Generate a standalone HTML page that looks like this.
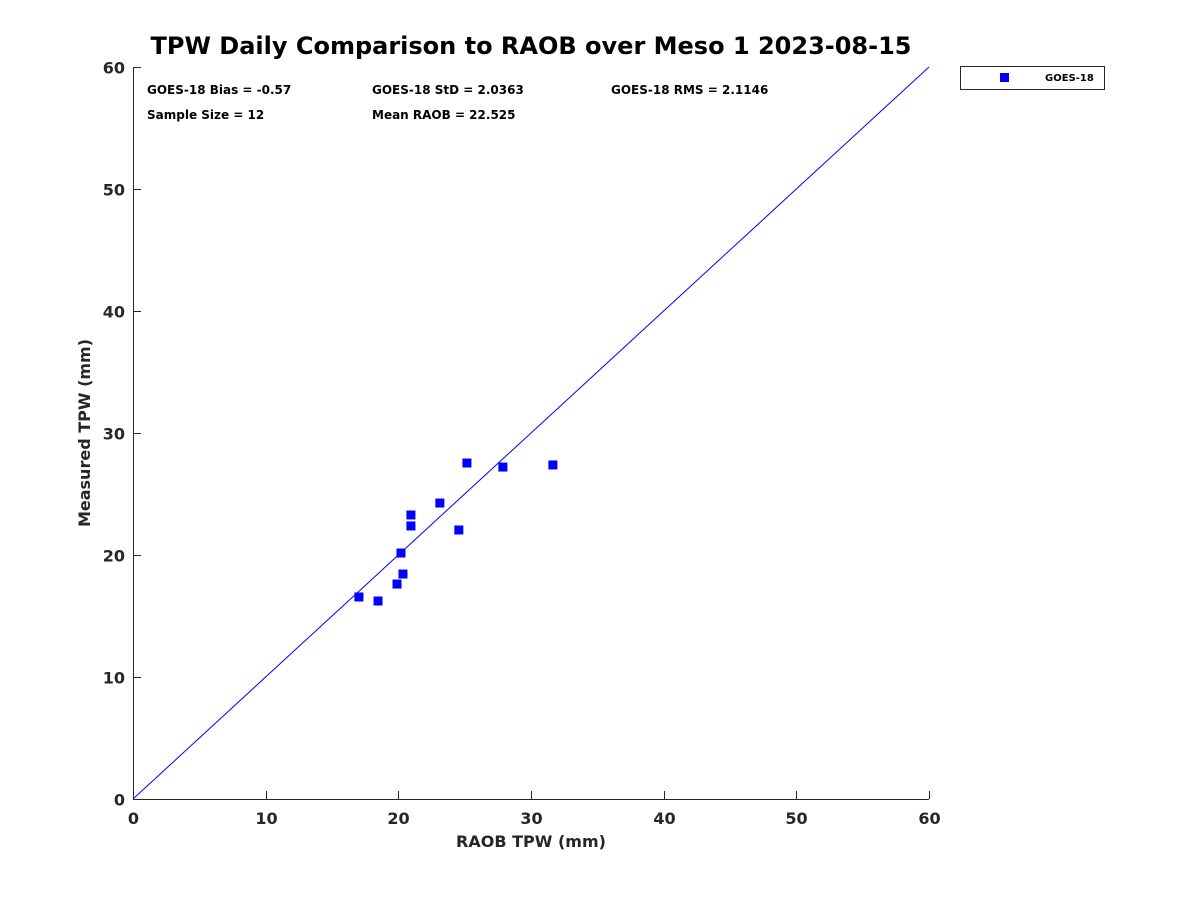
<!DOCTYPE html>
<html><head><meta charset="utf-8"><style>
body{margin:0;background:#fff;}
svg text{font-family:"DejaVu Sans","Liberation Sans",sans-serif;font-weight:bold;fill:#262626;}
</style></head><body>
<svg width="1200" height="900" xmlns="http://www.w3.org/2000/svg">
<text x="531" y="54" text-anchor="middle" font-size="24" style="fill:#000">TPW Daily Comparison to RAOB over Meso 1 2023-08-15</text>
<g id="axes"></g>
<g id="marks"></g>
<text x="147" y="94" font-size="12" style="fill:#000">GOES-18 Bias = -0.57</text>
<text x="372" y="94" font-size="12" style="fill:#000">GOES-18 StD = 2.0363</text>
<text x="611" y="94" font-size="12" style="fill:#000">GOES-18 RMS = 2.1146</text>
<text x="147" y="119" font-size="12" style="fill:#000">Sample Size = 12</text>
<text x="372" y="119" font-size="12" style="fill:#000">Mean RAOB = 22.525</text>
<text x="531" y="847" text-anchor="middle" font-size="16">RAOB TPW (mm)</text>
<text transform="translate(90,433) rotate(-90)" text-anchor="middle" font-size="16">Measured TPW (mm)</text>
<g>
<rect x="960.5" y="66.5" width="144" height="23" fill="#fff" stroke="#262626" stroke-width="1"/>
<rect x="1000" y="73" width="9" height="9" fill="#0000ff"/>
<text x="1045" y="81" font-size="10" style="fill:#000">GOES-18</text>
</g>
</svg>
<script>
const raob=[17.03,18.47,19.9,20.2,20.35,20.95,20.95,23.13,24.56,25.17,27.88,31.65];
const measured=[16.56,16.23,17.62,20.16,18.44,23.28,22.38,24.26,22.05,27.54,27.21,27.38];
const xTicks=[0,10,20,30,40,50,60];
const yTicks=[0,10,20,30,40,50,60];
const X0=133,X1=929,Y0=799,Y1=67;
const sx=v=>X0+(v-0)/(60-0)*(X1-X0);
const sy=v=>Y0-(v-0)/(60-0)*(Y0-Y1);
const NS="http://www.w3.org/2000/svg";
const ax=document.getElementById('axes');
function mk(tag,attrs,parent){const e=document.createElementNS(NS,tag);for(const k in attrs)e.setAttribute(k,attrs[k]);parent.appendChild(e);return e;}
let l=mk('line',{x1:X0,y1:Y0+0.5,x2:X1,y2:Y0+0.5,stroke:'#262626'},ax);


l=mk('line',{x1:X0+0.5,y1:Y1,x2:X0+0.5,y2:Y0,stroke:'#262626'},ax);


xTicks.forEach(v=>{
 const x=Math.round(sx(v))+0.5;
 const t=mk('line',{x1:x,y1:Y0,x2:x,y2:Y0-8,stroke:'#262626'},ax);
 
 
 const tx=mk('text',{x:x,y:Y0+25,'text-anchor':'middle','font-size':16},ax);
 tx.textContent=v;
 
 
});
yTicks.forEach(v=>{
 const y=Math.round(sy(v))+0.5;
 const t=mk('line',{x1:X0,y1:y,x2:X0+8,y2:y,stroke:'#262626'},ax);
 
 
 const tx=mk('text',{x:X0-8,y:y+6,'text-anchor':'end','font-size':16},ax);
 tx.textContent=v;
 
 
});
const m=document.getElementById('marks');
const d=mk('line',{x1:sx(0),y1:sy(0),x2:sx(60),y2:sy(60),stroke:'#0000ff','stroke-width':1},m);


raob.forEach((v,i)=>{
 const r=mk('rect',{x:sx(v)-4.5,y:sy(measured[i])-4.5,width:9,height:9,fill:'#0000ff'},m);
 
 
});
</script>
</body></html>
